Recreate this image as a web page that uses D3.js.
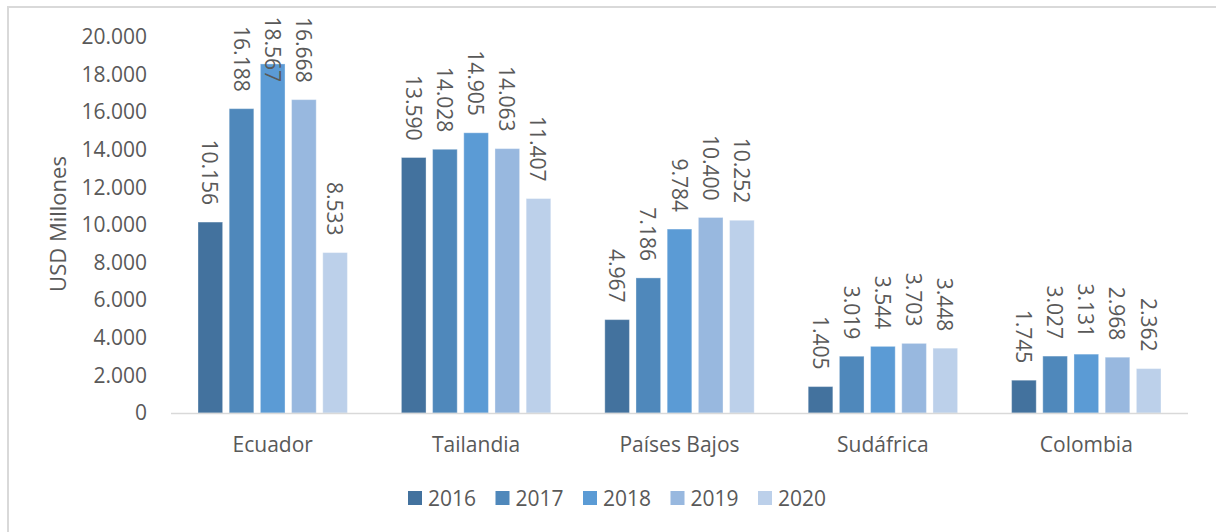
<!DOCTYPE html>
<html>
<head>
<meta charset="utf-8">
<script src="https://cdn.jsdelivr.net/npm/d3@7"></script>
<style>
  body { margin: 0; background: #fff; }
  text { font-family: "Open Sans", sans-serif; fill: #595959; }
</style>
</head>
<body>
<svg id="chart" width="1216" height="532"></svg>
<script>
(function() {
  'use strict';

  var
    categories = ['Ecuador', 'Tailandia', 'Países Bajos', 'Sudáfrica', 'Colombia'],
    years = ['2016', '2017', '2018', '2019', '2020'],
    values2016 = [10156, 13590, 4967, 1405, 1745],
    values2017 = [16188, 14028, 7186, 3019, 3027],
    values2018 = [18567, 14905, 9784, 3544, 3131],
    values2019 = [16668, 14063, 10400, 3703, 2968],
    values2020 = [8533, 11407, 10252, 3448, 2362],
    yTicks = [0, 2000, 4000, 6000, 8000, 10000, 12000, 14000, 16000, 18000, 20000],
    colors = ['#43729e', '#4f88bb', '#5b9bd5', '#98b8df', '#bcd0ea'],

    series = [values2016, values2017, values2018, values2019, values2020],

    FONT = '21px',

    svg = d3.select('#chart'),
    left = 171,
    right = 1188,
    top = 37,
    bottom = 413;

  // format 10156 -> 10.156
  var fmt = function(v) {
    return d3.format(',')(v).replace(/,/g, '.');
  };

  // frame
  svg.append('rect')
    .attr('x', 8).attr('y', 7)
    .attr('width', 1220).attr('height', 540)
    .attr('fill', 'none')
    .attr('stroke', '#d9d9d9')
    .attr('stroke-width', 2);

  var x0 = d3.scaleBand()
    .domain(categories)
    .range([left, right]);

  var x1 = d3.scaleBand()
    .domain(years)
    .range([27, x0.bandwidth() - 27])
    .paddingInner(0.21);

  var y = d3.scaleLinear()
    .domain([0, 20000])
    .range([bottom, top]);

  // y axis labels
  var yAxis = svg.append('g')
    .attr('transform', 'translate(147,0)')
    .call(d3.axisLeft(y).tickValues(yTicks).tickSize(0).tickPadding(0).tickFormat(fmt));
  yAxis.select('.domain').remove();
  yAxis.selectAll('text')
    .style('font-size', FONT)
    .attr('fill', '#595959');

  svg.append('text')
    .attr('transform', 'translate(57,224) rotate(-90)')
    .attr('text-anchor', 'middle')
    .attr('dominant-baseline', 'central')
    .style('font-size', '22px')
    .text('USD Millones');

  // bars
  var groups = svg.selectAll('g.cat')
    .data(categories)
    .enter()
    .append('g')
    .attr('class', 'cat')
    .attr('transform', function(d) { return 'translate(' + x0(d) + ',0)'; });

  groups.each(function(cat, ci) {
    var g = d3.select(this);
    var rows = years.map(function(yr, si) {
      return {year: yr, value: series[si][ci], color: colors[si]};
    });

    g.selectAll('rect')
      .data(rows)
      .enter()
      .append('rect')
      .attr('x', function(d) { return x1(d.year); })
      .attr('y', function(d) { return y(d.value); })
      .attr('width', x1.bandwidth())
      .attr('height', function(d) { return bottom - y(d.value); })
      .attr('fill', function(d) { return d.color; })
      .attr('stroke', 'rgba(255,255,255,0.35)')
      .attr('stroke-width', 1);

    g.selectAll('text.lbl')
      .data(rows)
      .enter()
      .append('text')
      .attr('class', 'lbl')
      .attr('transform', function(d) {
        var cx = x1(d.year) + x1.bandwidth() / 2,
            end = Math.max(y(d.value) - 17, 82);
        return 'translate(' + cx + ',' + end + ') rotate(90)';
      })
      .attr('text-anchor', 'end')
      .attr('dominant-baseline', 'central')
      .style('font-size', FONT)
      .text(function(d) { return fmt(d.value); });
  });

  // baseline
  svg.append('line')
    .attr('x1', left).attr('x2', right)
    .attr('y1', bottom + 0.5).attr('y2', bottom + 0.5)
    .attr('stroke', '#d9d9d9')
    .attr('stroke-width', 1.5);

  // category labels
  var xAxis = svg.append('g')
    .attr('transform', 'translate(0,' + bottom + ')')
    .call(d3.axisBottom(x0).tickSize(0).tickPadding(24));
  xAxis.select('.domain').remove();
  xAxis.selectAll('text')
    .style('font-size', FONT)
    .attr('fill', '#595959');

  // legend
  var legend = svg.append('g')
    .attr('transform', 'translate(408,498)');

  var items = legend.selectAll('g')
    .data(years)
    .enter()
    .append('g')
    .attr('transform', function(d, i) { return 'translate(' + (i * 87.5) + ',0)'; });

  items.append('rect')
    .attr('x', 0).attr('y', -7)
    .attr('width', 14).attr('height', 14)
    .attr('fill', function(d, i) { return colors[i]; });

  items.append('text')
    .attr('x', 20)
    .attr('dominant-baseline', 'central')
    .style('font-size', FONT)
    .text(function(d) { return d; });
})();
</script>
</body>
</html>
